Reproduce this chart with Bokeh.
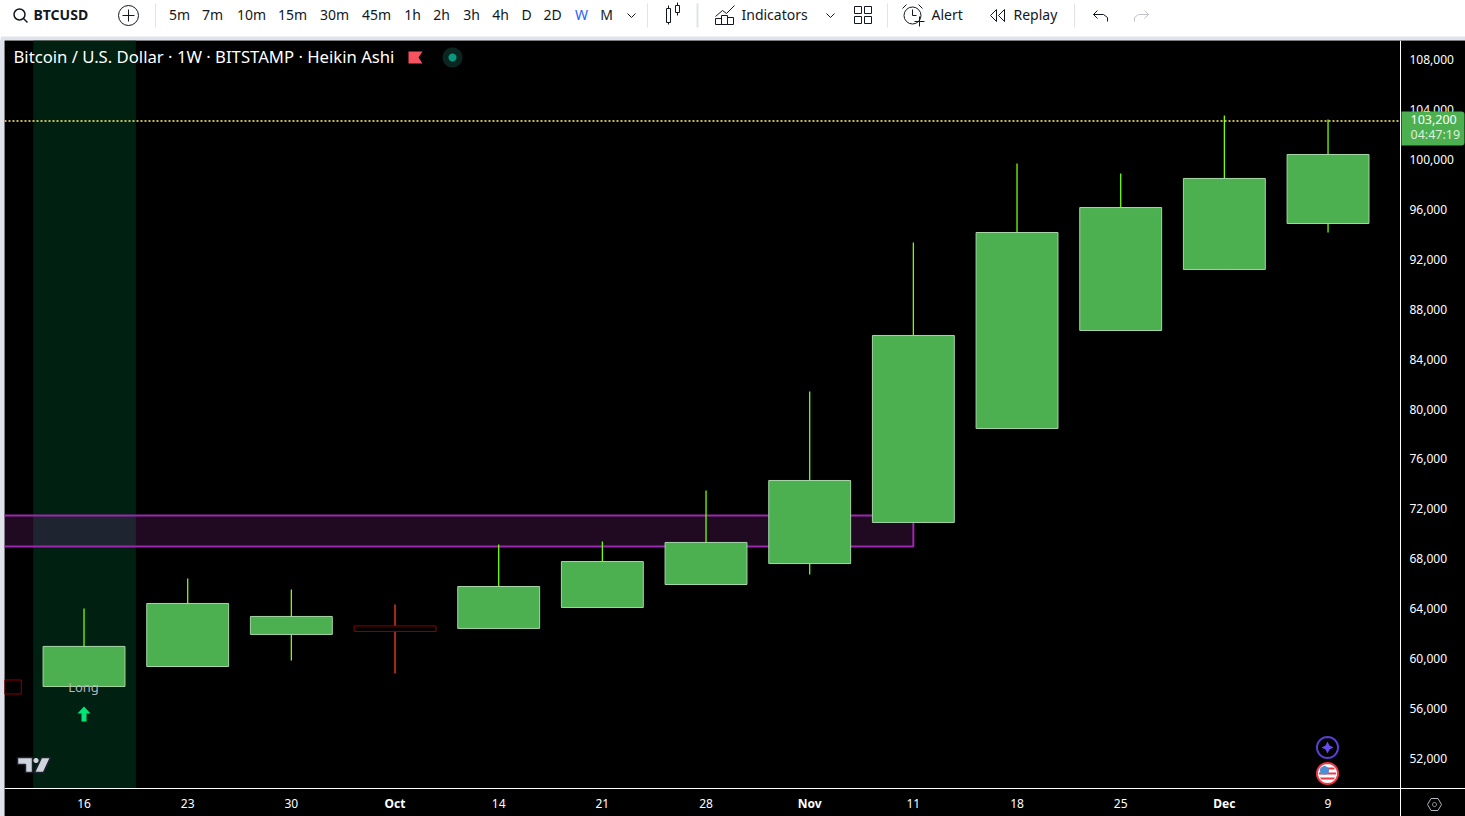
import numpy as np
from bokeh.core.properties import value
from bokeh.embed import file_html
from bokeh.layouts import column, row
from bokeh.models import (
    BoxAnnotation, FixedTicker, Label, LinearAxis, NumeralTickFormatter, PolyAnnotation,
    Range1d, Spacer,
)
from bokeh.plotting import figure
from bokeh.resources import INLINE

# weekly Heikin Ashi candles
bar_index = [-1, 0, 1, 2, 3, 4, 5, 6, 7, 8, 9, 10, 11, 12]
opens = [58290, 57770, 59370, 61940, 62620, 62420, 64100, 65940, 67620, 70910, 78440, 86290, 91180, 94860]
closes = [57170, 60980, 64420, 63380, 62180, 65780, 67780, 69310, 74270, 85890, 94140, 96140, 98470, 100390]
highs = [58290, 64020, 66420, 65540, 64340, 69150, 69390, 73470, 81400, 93340, 99670, 98870, 103510, 103190]
lows = [57170, 57770, 59370, 59850, 58810, 62420, 64100, 65940, 66740, 70910, 78440, 86290, 91180, 94140]

price_ticks = list(range(52000, 108001, 4000))
time_ticks = [0, 1, 2, 3, 4, 5, 6, 7, 8, 9, 10, 11, 12]
time_labels = ["16", "23", "30", "Oct", "14", "21", "28", "Nov", "11", "18", "25", "Dec", "9"]
month_labels = ["Oct", "Nov", "Dec"]

last_price = 103073
zone_top = 71470
zone_bottom = 68990
zone_end = 8
signal_bar = 0

intervals = ["5m", "7m", "10m", "15m", "30m", "45m", "1h", "2h", "3h", "4h", "D", "2D", "W", "M"]
interval_x = [179, 212, 251, 292, 334, 376, 412, 441, 471, 500, 526, 552, 581, 606]

FONT = "Noto Sans"
TEXT = "#131722"
UP_FILL = "#4caf50"
UP_EDGE = "#a5d6a7"
UP_WICK = "#76ff03"
DOWN_EDGE = "#8b0000"
DOWN_WICK = "#ff3b30"

# the scales sit inside the frame, so the price tag and corner icons can overlap them
X_LEFT, X_RIGHT = -0.767, 13.326
Y_BOTTOM, Y_TOP = 47354, 109522
PRICE_SCALE_X = 12.699
TIME_SCALE_Y = 49637


def sx(x):
    return x - 4


def sy(y):
    return y - 40


def box(p, x0, y0, x1, y1, color, **kw):
    p.add_layout(BoxAnnotation(
        left=sx(x0), right=sx(x1), top=sy(y0), bottom=sy(y1),
        left_units="canvas", right_units="canvas", top_units="canvas", bottom_units="canvas",
        fill_color=color, fill_alpha=1, line_color=None, level="overlay", **kw))


def poly(p, xs, ys, color, line=None, width=1):
    p.add_layout(PolyAnnotation(
        xs=[sx(v) for v in xs], ys=[sy(v) for v in ys],
        xs_units="canvas", ys_units="canvas",
        fill_color=color, fill_alpha=1 if color else 0,
        line_color=line, line_width=width, line_alpha=1, level="overlay"))


def disc(p, cx, cy, r, color, line=None, width=1):
    t = np.linspace(0, 2 * np.pi, 41)
    poly(p, cx + r * np.cos(t), cy + r * np.sin(t), color, line, width)


def chord(p, cx, cy, r, y0, y1, color):
    left = np.linspace(y0, y1, 6)
    half = np.sqrt(np.maximum(r * r - (left - cy) ** 2, 0))
    poly(p, np.r_[cx - half, (cx + half)[::-1]], np.r_[left, left[::-1]], color)


def label(p, x, y, text, size, color="#ffffff", align="left", style="normal"):
    p.add_layout(Label(
        x=sx(x), y=sy(y), x_units="canvas", y_units="canvas", text=text, level="overlay",
        text_font=FONT, text_font_size=f"{size}px", text_color=color,
        text_align=align, text_baseline="middle", text_font_style=style))


# ---- top toolbar, drawn in page pixels
bar = figure(width=1465, height=40, x_range=(0, 1465), y_range=(40, 0),
             output_backend="svg", toolbar_location=None, min_border=0,
             x_axis_type=None, y_axis_type=None, outline_line_color=None,
             background_fill_color="#ffffff", border_fill_color="#ffffff")
bar.grid.visible = False
bar.quad(left=0, right=1465, top=36, bottom=40, fill_color="#e0e3eb", line_color=None)


def bar_text(x, text, color=TEXT, align="center", style="normal", size="14px"):
    bar.text([x], [14], text=[text], text_font=value(FONT), text_font_size=size, text_color=color,
             text_align=align, text_baseline="middle", text_font_style=style)


def bar_lines(xs, ys, color=TEXT, width=1):
    bar.multi_line(xs, ys, line_color=color, line_width=width)


bar_text(33, "BTCUSD", align="left", style="bold")
bar.circle([19], [14], radius=5.5, fill_color=None, line_color=TEXT, line_width=1.5)
bar_lines([[23, 27]], [[18, 22]], width=1.5)
bar.circle([128], [15], radius=10, fill_color=None, line_color=TEXT)
bar_lines([[122, 134], [128, 128]], [[15, 15], [9, 21]])
for x, name in zip(interval_x, intervals):
    bar_text(x, name, color="#2962ff" if name == "W" else TEXT)
for x in (155, 647, 887, 1074):
    bar_lines([[x, x]], [[3, 27]], color="#e0e3eb")
bar_lines([[697, 697]], [[3, 27]], color="#e0e3eb", width=2)
# chevrons
bar_lines([[627, 631, 635], [826, 830, 834]], [[13, 17, 13], [13, 17, 13]])
# candle icon
bar.quad(left=[666, 675], right=[670, 679], top=[8, 5], bottom=[22, 12], fill_color=None, line_color=TEXT)
bar_lines([[668, 668], [668, 668], [677, 677], [677, 677]], [[5, 8], [22, 24], [2, 5], [12, 15]])
# indicators icon
bar_lines([[715, 722, 726, 734]], [[16, 10, 13, 5]])
bar.quad(left=[715, 721, 727], right=[721, 727, 733], top=[18, 15, 17], bottom=[24, 24, 24],
         fill_color=None, line_color=TEXT)
bar_text(741, "Indicators", align="left")
# layout icon
bar.quad(left=[854, 864, 854, 864], right=[861, 871, 861, 871], top=[6, 6, 16, 16], bottom=[13, 13, 23, 23],
         fill_color=None, line_color=TEXT)
# alert icon
bar.circle([912], [15], radius=8.5, fill_color=None, line_color=TEXT)
bar_lines([[912, 912, 916], [902, 906], [922, 918], [914, 924], [919, 919]],
          [[9, 15, 15], [8, 4], [8, 4], [21, 21], [16, 26]])
bar_text(931, "Alert", align="left")
# replay icon
bar_lines([[996, 990, 996, 996], [1004, 998, 1004, 1004]], [[9, 15, 21, 9], [9, 15, 21, 9]])
bar_text(1013, "Replay", align="left")
# undo, redo
bar_lines([[1097, 1093, 1097], [1093, 1103, 1107, 1107]], [[10, 14, 18], [14, 14, 17, 21]])
bar_lines([[1144, 1148, 1144], [1148, 1138, 1134, 1134]], [[10, 14, 18], [14, 14, 17, 21]], color="#c1c4cd")

# ---- chart
p = figure(width=1461, height=776,
           x_range=Range1d(X_LEFT, X_RIGHT), y_range=Range1d(Y_BOTTOM, Y_TOP),
           x_axis_type=None, y_axis_type=None, output_backend="svg", toolbar_location=None,
           background_fill_color="#000000", border_fill_color="#000000",
           outline_line_color=None, min_border=0)
p.grid.visible = False

price_axis = LinearAxis(fixed_location=PRICE_SCALE_X,
                        ticker=FixedTicker(ticks=price_ticks),
                        formatter=NumeralTickFormatter(format="0,0"),
                        major_label_standoff=3)
time_axis = LinearAxis(fixed_location=TIME_SCALE_Y,
                       ticker=FixedTicker(ticks=time_ticks),
                       major_label_overrides={
                           t: ("" if s in month_labels else s) for t, s in zip(time_ticks, time_labels)
                       },
                       major_label_standoff=5)
for ax, side in ((price_axis, "right"), (time_axis, "below")):
    ax.axis_line_color = "#ffffff"
    ax.major_tick_line_color = None
    ax.minor_tick_line_color = None
    ax.major_label_text_color = "#ffffff"
    ax.major_label_text_font = FONT
    ax.major_label_text_font_size = "12px"
    p.add_layout(ax, side)

# signal bar highlight and purple zone
p.quad(left=signal_bar - 0.49, right=signal_bar + 0.5, bottom=TIME_SCALE_Y, top=Y_TOP,
       fill_color="#002012", line_color=None)
p.quad(left=-3, right=zone_end, bottom=zone_bottom, top=zone_top,
       fill_color="#f050ff", fill_alpha=0.13, line_color="#9c27b0", line_width=2)

# candles
up = [c >= o for o, c in zip(opens, closes)]
p.segment(bar_index, highs, bar_index, lows,
          line_color=[UP_WICK if u else DOWN_WICK for u in up], line_width=1.3)
p.vbar(x=bar_index, width=0.79, bottom=opens, top=closes,
       fill_color=[UP_FILL if u else "#000000" for u in up],
       line_color=[UP_EDGE if u else DOWN_EDGE for u in up], line_width=1)

p.line([X_LEFT, PRICE_SCALE_X], [last_price, last_price], line_color="#fff176",
       line_dash=[2, 2], line_width=1.5)

# title and status
label(p, 13, 56, "Bitcoin / U.S. Dollar · 1W · BITSTAMP · Heikin Ashi", 16.7)
poly(p, [408, 422, 418, 422, 408], [51, 51, 57, 63, 63], "#f7525f")
disc(p, 452, 57, 10, "#0b2620")
disc(p, 452, 57, 4, "#089981")

# Long signal
label(p, 83, 686, "Long", 13, color="#b2b5be", align="center")
poly(p, [83.5, 90, 86, 86, 81, 81, 77], [706, 713, 713, 721, 721, 713, 713], "#00e676")

# TradingView mark
poly(p, [17, 32, 32, 25, 25, 17], [757, 757, 772, 772, 764, 764], "#d1d4dc", "#1e222d", 1.5)
disc(p, 35.5, 760, 2.6, "#d1d4dc")
poly(p, [41, 50, 43, 34], [757, 757, 772, 772], "#d1d4dc", "#1e222d", 1.5)

# event icons
disc(p, 1327, 747, 10.5, "#000000", "#5b3fd6", 2)
poly(p, [1327, 1329, 1333, 1329, 1327, 1325, 1321, 1325], [741, 745, 747, 749, 753, 749, 747, 745], "#6a4be8")
disc(p, 1327, 773, 10.5, "#ffffff", "#f23645", 2)
for y in (768, 773, 778):
    chord(p, 1327, 773, 8.5, y - 1, y + 1, "#f23645")
chord(p, 1324, 770, 4.6, 765.5, 774, "#4a90d9")

# price tag
box(p, 1401, 111, 1464, 145, UP_FILL, border_radius=(0, 3, 3, 0))
label(p, 1410, 119, "103,200", 12.5)
label(p, 1410, 134, "04:47:19", 12.5, color="#dcefdd")

# gear in the scale corner
poly(p, [1427, 1430.5, 1437.5, 1441, 1437.5, 1430.5], [804, 798, 798, 804, 810, 810], None, "#b2b5be", 1)
disc(p, 1434, 804, 2, None, "#b2b5be", 1)

# month names are bold in the time scale, the axis has no per-label weight
for t, s in zip(time_ticks, time_labels):
    if s in month_labels:
        p.add_layout(Label(x=t, y=sy(803), x_units="data", y_units="canvas", text=s, level="overlay",
                           text_font=FONT, text_font_size="12px", text_color="#ffffff",
                           text_font_style="bold", text_align="center", text_baseline="middle"))

strip = Spacer(width=4, height=776, styles={"background": "#e0e3eb"})
page = column(bar, row(strip, p, spacing=0), spacing=0)

open("out.html", "w").write(file_html(page, INLINE))
